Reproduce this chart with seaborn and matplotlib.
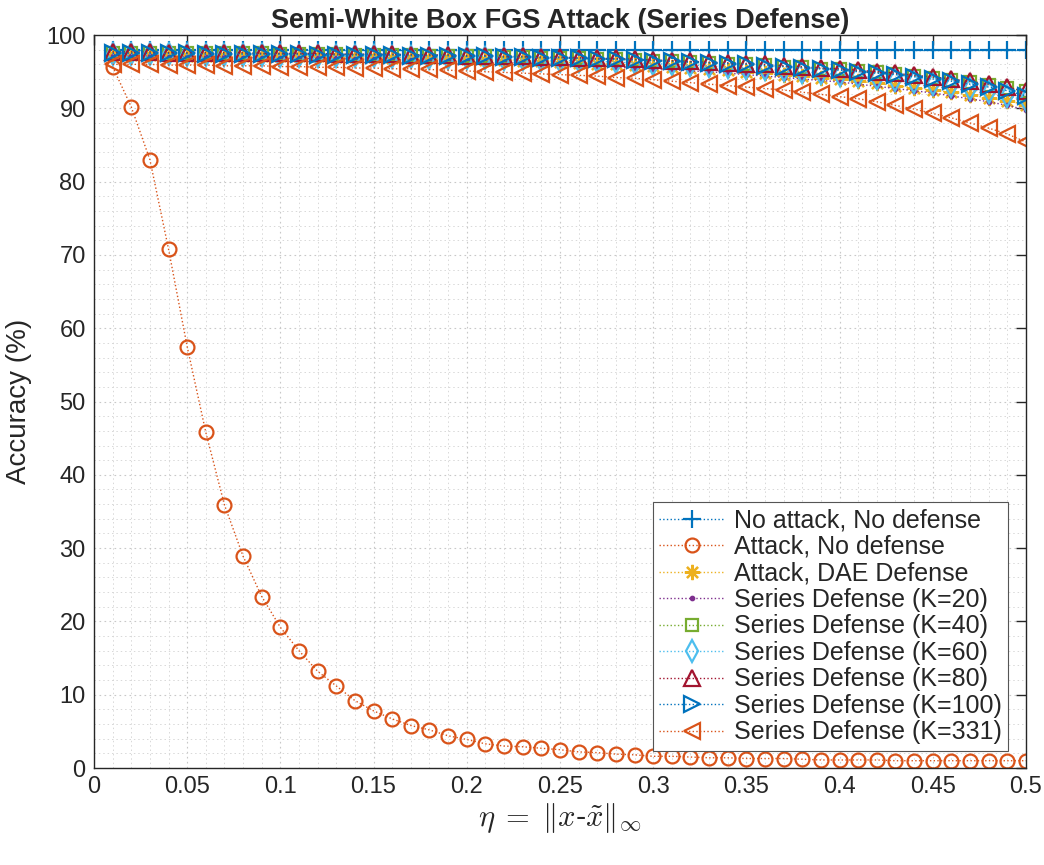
import numpy as np
import pandas as pd
import matplotlib
matplotlib.use("Agg")
import matplotlib.pyplot as plt
from matplotlib.ticker import MultipleLocator
import seaborn as sns

eta = [round(0.01 * i, 2) for i in range(1, 51)]

no_attack = [98.0] * 50

attack_no_def = [95.7, 90.2, 83.0, 70.8, 57.5, 45.8, 35.9, 28.9, 23.4, 19.2,
                 16.0, 13.2, 11.2, 9.2, 7.8, 6.7, 5.8, 5.2, 4.4, 3.9,
                 3.3, 3.0, 2.9, 2.7, 2.5, 2.2, 2.1, 1.9, 1.8, 1.6,
                 1.6, 1.5, 1.4, 1.4, 1.3, 1.3, 1.3, 1.2, 1.1, 1.1,
                 1.1, 1.1, 1.0, 1.0, 1.0, 1.0, 1.0, 1.0, 1.0, 1.0]

dae_def = [97.3, 97.3, 97.3, 97.3, 97.2, 97.2, 97.2, 97.2, 97.2, 97.1,
           97.1, 97.1, 97.0, 97.0, 97.0, 96.9, 96.9, 96.8, 96.8, 96.7,
           96.6, 96.6, 96.5, 96.4, 96.3, 96.2, 96.1, 96.0, 95.9, 95.8,
           95.6, 95.5, 95.3, 95.2, 95.0, 94.8, 94.6, 94.4, 94.2, 94.0,
           93.7, 93.4, 93.1, 92.8, 92.5, 92.2, 91.8, 91.4, 91.0, 90.5]

k20 = [97.1, 97.1, 97.1, 97.0, 97.0, 97.0, 97.0, 96.9, 96.9, 96.9,
       96.8, 96.8, 96.8, 96.7, 96.7, 96.6, 96.6, 96.5, 96.5, 96.4,
       96.3, 96.3, 96.2, 96.1, 96.0, 95.9, 95.8, 95.7, 95.5, 95.4,
       95.3, 95.1, 95.0, 94.8, 94.6, 94.4, 94.2, 94.0, 93.8, 93.6,
       93.3, 93.0, 92.7, 92.4, 92.1, 91.7, 91.3, 90.9, 90.4, 89.8]

k40 = [97.6, 97.6, 97.6, 97.6, 97.5, 97.5, 97.5, 97.5, 97.5, 97.4,
       97.4, 97.4, 97.4, 97.3, 97.3, 97.3, 97.3, 97.2, 97.2, 97.1,
       97.1, 97.0, 97.0, 96.9, 96.9, 96.8, 96.7, 96.7, 96.6, 96.5,
       96.4, 96.3, 96.2, 96.1, 96.0, 95.9, 95.7, 95.6, 95.4, 95.3,
       95.1, 94.9, 94.7, 94.4, 94.2, 93.9, 93.6, 93.2, 92.8, 92.3]

k60 = [97.4, 97.4, 97.4, 97.4, 97.3, 97.3, 97.3, 97.3, 97.3, 97.2,
       97.2, 97.2, 97.1, 97.1, 97.1, 97.0, 97.0, 96.9, 96.9, 96.8,
       96.8, 96.7, 96.7, 96.6, 96.5, 96.5, 96.4, 96.3, 96.2, 96.1,
       96.0, 95.9, 95.8, 95.6, 95.5, 95.3, 95.2, 95.0, 94.8, 94.6,
       94.4, 94.1, 93.9, 93.6, 93.3, 93.0, 92.6, 92.2, 91.7, 91.1]

k80 = [97.7, 97.7, 97.7, 97.6, 97.6, 97.6, 97.6, 97.6, 97.5, 97.5,
       97.5, 97.5, 97.4, 97.4, 97.4, 97.4, 97.3, 97.3, 97.3, 97.2,
       97.2, 97.1, 97.1, 97.0, 97.0, 96.9, 96.8, 96.8, 96.7, 96.6,
       96.5, 96.4, 96.3, 96.2, 96.1, 96.0, 95.8, 95.7, 95.5, 95.4,
       95.2, 95.0, 94.8, 94.5, 94.3, 94.0, 93.7, 93.3, 92.9, 92.3]

k100 = [97.5, 97.5, 97.5, 97.5, 97.5, 97.4, 97.4, 97.4, 97.4, 97.4,
        97.4, 97.3, 97.3, 97.3, 97.3, 97.3, 97.2, 97.2, 97.2, 97.1,
        97.1, 97.0, 97.0, 96.9, 96.9, 96.8, 96.7, 96.7, 96.6, 96.5,
        96.4, 96.3, 96.2, 96.1, 96.0, 95.8, 95.7, 95.5, 95.4, 95.2,
        95.0, 94.8, 94.6, 94.3, 94.0, 93.7, 93.3, 92.9, 92.4, 91.7]

k331 = [96.0, 96.0, 96.0, 95.9, 95.9, 95.9, 95.8, 95.8, 95.8, 95.7,
        95.7, 95.6, 95.6, 95.5, 95.5, 95.4, 95.4, 95.3, 95.2, 95.1,
        95.0, 94.9, 94.8, 94.7, 94.6, 94.5, 94.4, 94.2, 94.1, 93.9,
        93.7, 93.5, 93.3, 93.1, 92.9, 92.7, 92.5, 92.2, 91.9, 91.6,
        91.3, 90.9, 90.4, 89.9, 89.3, 88.7, 88.0, 87.3, 86.5, 85.4]

labels = ["No attack, No defense", "Attack, No defense", "Attack, DAE Defense",
          "Series Defense (K=20)", "Series Defense (K=40)", "Series Defense (K=60)",
          "Series Defense (K=80)", "Series Defense (K=100)", "Series Defense (K=331)"]
series = [no_attack, attack_no_def, dae_def, k20, k40, k60, k80, k100, k331]

colors = ["#0072BD", "#D95319", "#EDB120", "#7E2F8E", "#77AC30",
          "#4DBEEE", "#A2142F", "#0072BD", "#D95319"]
markers = ["+", "o", (8, 2, 0), ".", "s", "d", "^", ">", "<"]
msizes = [13, 10, 11, 5, 9, 11, 12, 12, 12]

sns.set_theme(style="white")
plt.rcParams['font.family'] = ['Liberation Sans', 'DejaVu Sans']
plt.rcParams['mathtext.fontset'] = 'cm'

fig = plt.figure(figsize=(10.44, 8.65), dpi=100)
ax = fig.add_axes([0.090, 0.1121, 0.8927, 0.8474])

for lab, ys, c, m, ms in zip(labels, series, colors, markers, msizes):
    df = pd.DataFrame({"eta": eta, "acc": ys})
    filled = isinstance(m, tuple) or m in [".", "+"]
    sns.lineplot(data=df, x="eta", y="acc", ax=ax, color=c, marker=m,
                 markersize=ms, markerfacecolor=(c if filled else "none"),
                 markeredgecolor=c, markeredgewidth=1.6, linestyle=":",
                 linewidth=1.0, label=lab, errorbar=None, sort=False)

ax.set_xlim(0, 0.5)
ax.set_ylim(0, 100)
ax.set_xticks(np.arange(0, 0.501, 0.05))
ax.set_xticklabels(["0", "0.05", "0.1", "0.15", "0.2", "0.25", "0.3", "0.35", "0.4", "0.45", "0.5"])
ax.xaxis.set_minor_locator(MultipleLocator(0.01))
ax.yaxis.set_major_locator(MultipleLocator(10))
ax.yaxis.set_minor_locator(MultipleLocator(2))

ax.grid(which="major", color="#c8c8c8", linestyle=(0, (1.5, 3)), linewidth=0.8)
ax.grid(which="minor", color="#d8d8d8", linestyle=(0, (1.5, 3)), linewidth=0.7)
ax.set_axisbelow(True)

ax.tick_params(which="major", direction="in", length=7, width=1.0, color="#262626",
               top=True, right=True, labelsize=17, labelcolor="#262626", pad=6)
ax.tick_params(which="minor", length=0)
for sp in ax.spines.values():
    sp.set_color("#262626")
    sp.set_linewidth(1.0)
    sp.set_visible(True)

ax.set_title("Semi-White Box FGS Attack (Series Defense)", fontsize=19.5,
             fontweight="bold", pad=5)
ax.set_ylabel("Accuracy (%)", fontsize=20, color="#262626", labelpad=10)
ax.set_xlabel(r"$\eta\;=\;\Vert x$-$\tilde{x}\Vert_\infty$", fontsize=22, labelpad=2)

leg = ax.legend(loc="lower right", fontsize=18, frameon=True, fancybox=False,
                edgecolor="#555555", framealpha=1, handlelength=2.6,
                handletextpad=0.4, borderpad=0.25, labelspacing=0.1,
                borderaxespad=0.7)
leg.get_frame().set_linewidth(0.8)

fig.savefig("out.png", dpi=100)
